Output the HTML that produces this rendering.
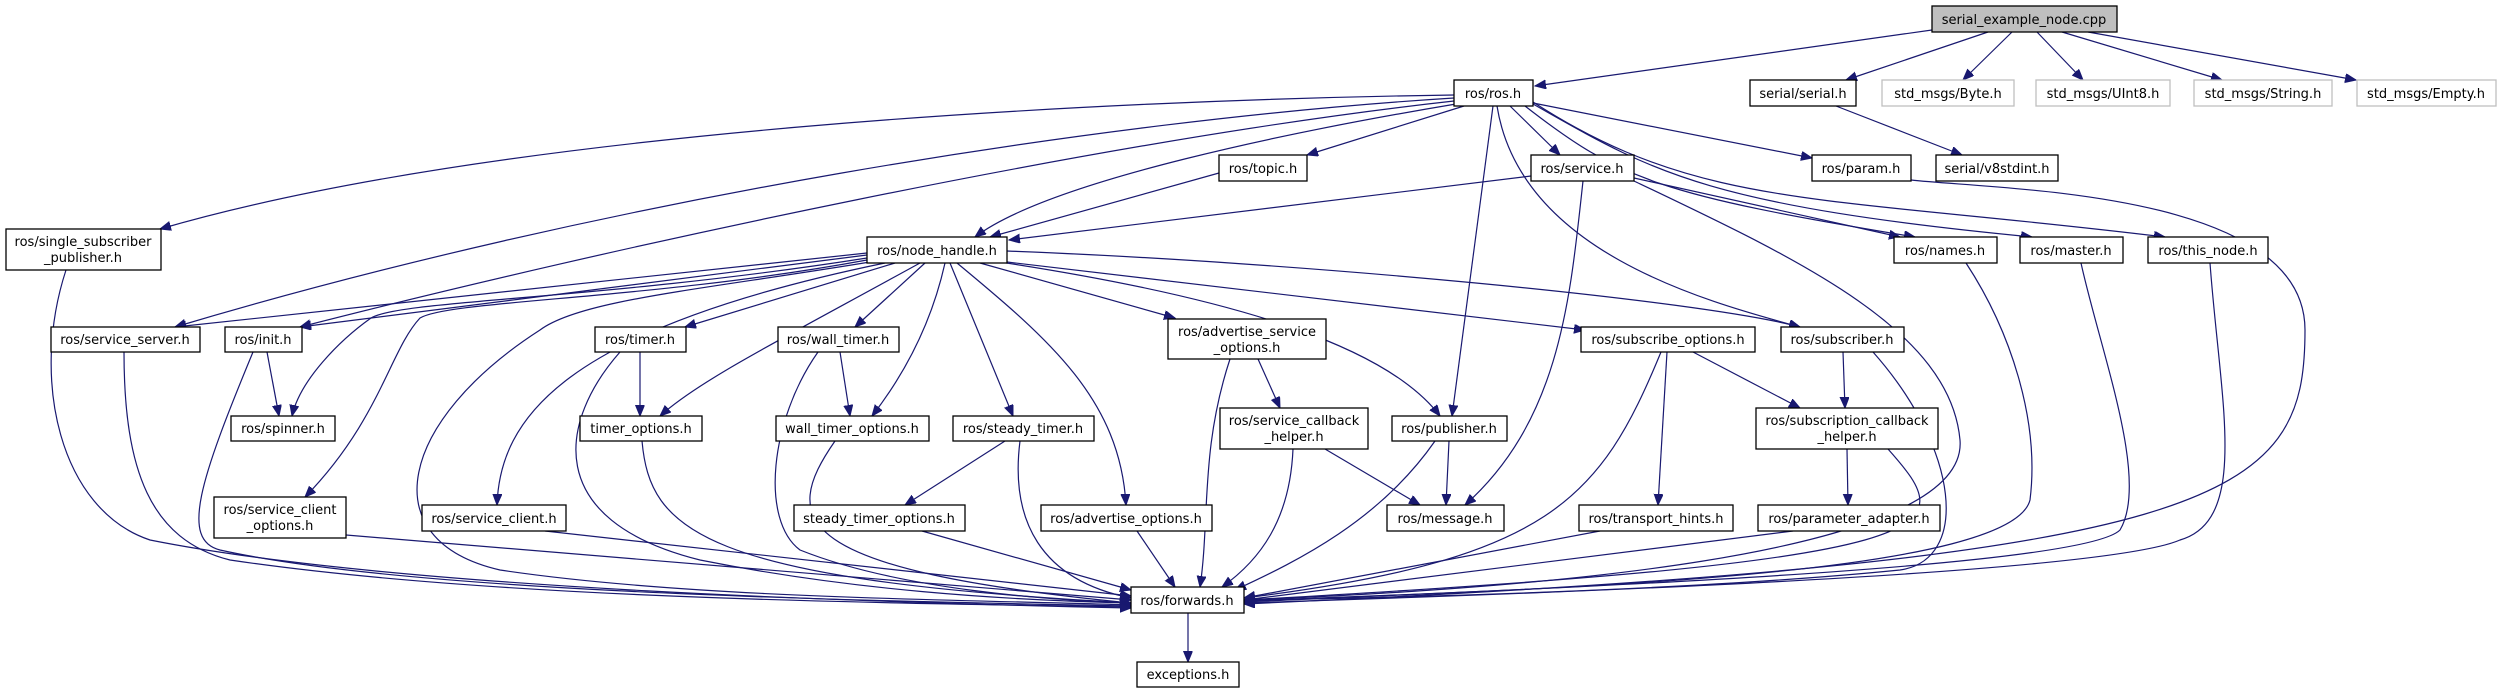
<!DOCTYPE html>
<html><head><meta charset="utf-8"><style>
html,body{margin:0;padding:0;background:#fff;}
svg{display:block;}
text{font-family:"DejaVu Sans","Liberation Sans",sans-serif;font-size:13px;fill:#000;text-anchor:middle;}
.n{fill:#fff;stroke:#000;stroke-width:1.3;}
.g{fill:#fff;stroke:#bfbfbf;stroke-width:1.3;}
.e{fill:none;stroke:#191970;stroke-width:1.2;marker-end:url(#a);}
</style></head><body>
<svg width="2502" height="693" viewBox="0 0 2502 693" xmlns="http://www.w3.org/2000/svg">
<defs><marker id="a" markerUnits="userSpaceOnUse" markerWidth="12" markerHeight="10" refX="11" refY="4.5" orient="auto"><path d="M0,0 L11,4.5 L0,9 z" fill="#191970" stroke="#191970"/></marker></defs>
<g>
<path class="e" d="M1932,30 L1535,86"/>
<path class="e" d="M1988,32 L1846,80"/>
<path class="e" d="M2012,32 L1963,80"/>
<path class="e" d="M2037,32 L2083,80"/>
<path class="e" d="M2062,32 L2222,80"/>
<path class="e" d="M2088,32 L2356,80"/>
<path class="e" d="M1836,106 L1962,155"/>
<path class="e" d="M1454,95 C1100,100 500,130 160,229"/>
<path class="e" d="M1454,98 C1100,120 600,200 175,327"/>
<path class="e" d="M1454,101 C1100,140 600,250 300,327"/>
<path class="e" d="M1456,104 C1300,130 1050,180 975,237"/>
<path class="e" d="M1219,173 L990,237"/>
<path class="e" d="M1531,176 L1009,240"/>
<path class="e" d="M1464,106 L1307,155"/>
<path class="e" d="M1510,106 L1560,155"/>
<path class="e" d="M1533,103 L1812,158"/>
<path class="e" d="M1525,106 C1620,180 1660,195 1915,237"/>
<path class="e" d="M1634,178 L1900,237"/>
<path class="e" d="M1533,104 C1650,170 1700,205 2032,237"/>
<path class="e" d="M1533,102 C1700,210 1820,195 2165,237"/>
<path class="e" d="M1493,106 L1452,416"/>
<path class="e" d="M1497,106 C1520,250 1700,300 1800,327"/>
<path class="e" d="M1583,181 C1570,300 1560,420 1465,505"/>
<path class="e" d="M1634,181 C1800,260 1950,330 1960,440 C1970,560 1500,590 1244,600"/>
<path class="e" d="M1911,180 C2000,190 2305,190 2305,330 C2305,500 2230,560 1244,604"/>
<path class="e" d="M1966,263 C2010,330 2040,420 2030,500 C2010,580 1500,590 1244,601"/>
<path class="e" d="M2081,263 C2100,350 2150,480 2120,530 C2080,570 1500,590 1244,602"/>
<path class="e" d="M2210,263 C2220,400 2250,520 2180,540 C2100,575 1500,595 1244,603"/>
<path class="e" d="M1873,352 C1960,450 1970,560 1900,570 C1700,590 1400,598 1244,600"/>
<path class="e" d="M1843,352 L1845,408"/>
<path class="e" d="M1693,352 L1800,408"/>
<path class="e" d="M1667,352 L1658,505"/>
<path class="e" d="M1661,352 C1600,500 1550,560 1244,598"/>
<path class="e" d="M1847,449 L1848,505"/>
<path class="e" d="M1888,449 C1960,530 1970,560 1244,600"/>
<path class="e" d="M1793,531 L1244,600"/>
<path class="e" d="M1600,531 L1244,598"/>
<path class="e" d="M1449,441 L1446,505"/>
<path class="e" d="M1435,441 C1380,520 1300,560 1235,590"/>
<path class="e" d="M1325,449 L1420,505"/>
<path class="e" d="M1293,449 C1290,520 1260,560 1222,587"/>
<path class="e" d="M1258,359 L1280,408"/>
<path class="e" d="M1230,359 C1200,450 1210,520 1200,587"/>
<path class="e" d="M980,263 L1175,318"/>
<path class="e" d="M1007,262 L1585,330"/>
<path class="e" d="M1007,251 C1300,262 1700,300 1800,327"/>
<path class="e" d="M1000,262 C1250,300 1390,350 1440,416"/>
<path class="e" d="M867,253 L175,327"/>
<path class="e" d="M867,255 L300,327"/>
<path class="e" d="M867,258 C600,300 400,300 371,318 C340,340 300,380 292,416"/>
<path class="e" d="M867,260 C650,300 450,300 420,318 C390,350 380,420 305,497"/>
<path class="e" d="M870,262 C700,290 580,300 540,330 C400,420 370,540 500,570 C700,600 1000,600 1131,605"/>
<path class="e" d="M885,263 C560,330 500,420 497,505"/>
<path class="e" d="M895,263 L685,327"/>
<path class="e" d="M920,263 C780,340 700,380 660,416"/>
<path class="e" d="M925,263 L855,327"/>
<path class="e" d="M945,263 C930,330 900,380 872,416"/>
<path class="e" d="M950,263 L1013,416"/>
<path class="e" d="M957,263 C1050,340 1120,400 1126,505"/>
<path class="e" d="M640,352 L640,416"/>
<path class="e" d="M620,352 C560,420 540,520 700,560 C850,590 1000,600 1131,603"/>
<path class="e" d="M642,441 C650,530 700,580 1131,603"/>
<path class="e" d="M840,352 L850,416"/>
<path class="e" d="M818,352 C770,420 760,520 800,550 C900,590 1050,600 1131,603"/>
<path class="e" d="M835,441 C780,520 790,570 1131,603"/>
<path class="e" d="M1005,441 L905,505"/>
<path class="e" d="M1020,441 C1010,520 1040,580 1131,598"/>
<path class="e" d="M922,531 L1131,590"/>
<path class="e" d="M1137,531 L1175,587"/>
<path class="e" d="M346,535 L1131,600"/>
<path class="e" d="M545,531 L1131,596"/>
<path class="e" d="M267,352 L279,416"/>
<path class="e" d="M253,352 C200,480 180,540 220,550 C400,590 800,600 1131,606"/>
<path class="e" d="M124,352 C124,470 150,540 230,560 C500,600 900,603 1131,607"/>
<path class="e" d="M66,270 C30,380 60,510 150,540 C400,590 900,603 1131,608"/>
<path class="e" d="M1188,613 L1188,662"/>
</g>
<g>
<rect x="1932" y="6" width="185" height="26" fill="#bfbfbf" stroke="#000" stroke-width="1.3"/><text x="2024" y="24">serial_example_node.cpp</text>
<rect class="n" x="1454" y="80" width="79" height="26"/><text x="1493" y="98">ros/ros.h</text>
<rect class="n" x="1750" y="80" width="106" height="26"/><text x="1803" y="98">serial/serial.h</text>
<rect class="g" x="1882" y="80" width="132" height="26"/><text x="1948" y="98">std_msgs/Byte.h</text>
<rect class="g" x="2036" y="80" width="134" height="26"/><text x="2103" y="98">std_msgs/UInt8.h</text>
<rect class="g" x="2194" y="80" width="138" height="26"/><text x="2263" y="98">std_msgs/String.h</text>
<rect class="g" x="2357" y="80" width="139" height="26"/><text x="2426" y="98">std_msgs/Empty.h</text>
<rect class="n" x="1219" y="155" width="88" height="26"/><text x="1263" y="173">ros/topic.h</text>
<rect class="n" x="1531" y="155" width="103" height="26"/><text x="1582" y="173">ros/service.h</text>
<rect class="n" x="1812" y="155" width="99" height="26"/><text x="1861" y="173">ros/param.h</text>
<rect class="n" x="1936" y="155" width="122" height="26"/><text x="1997" y="173">serial/v8stdint.h</text>
<rect class="n" x="6" y="229" width="155" height="41"/><text x="83" y="246">ros/single_subscriber</text><text x="83" y="262">_publisher.h</text>
<rect class="n" x="867" y="237" width="140" height="26"/><text x="937" y="255">ros/node_handle.h</text>
<rect class="n" x="1894" y="237" width="103" height="26"/><text x="1945" y="255">ros/names.h</text>
<rect class="n" x="2020" y="237" width="103" height="26"/><text x="2071" y="255">ros/master.h</text>
<rect class="n" x="2148" y="237" width="120" height="26"/><text x="2208" y="255">ros/this_node.h</text>
<rect class="n" x="51" y="327" width="149" height="25"/><text x="125" y="344">ros/service_server.h</text>
<rect class="n" x="225" y="327" width="77" height="25"/><text x="263" y="344">ros/init.h</text>
<rect class="n" x="595" y="327" width="91" height="25"/><text x="640" y="344">ros/timer.h</text>
<rect class="n" x="778" y="327" width="121" height="25"/><text x="838" y="344">ros/wall_timer.h</text>
<rect class="n" x="1168" y="319" width="158" height="40"/><text x="1247" y="336">ros/advertise_service</text><text x="1247" y="352">_options.h</text>
<rect class="n" x="1581" y="327" width="174" height="25"/><text x="1668" y="344">ros/subscribe_options.h</text>
<rect class="n" x="1781" y="327" width="123" height="25"/><text x="1842" y="344">ros/subscriber.h</text>
<rect class="n" x="231" y="416" width="104" height="25"/><text x="283" y="433">ros/spinner.h</text>
<rect class="n" x="580" y="416" width="122" height="25"/><text x="641" y="433">timer_options.h</text>
<rect class="n" x="776" y="416" width="153" height="25"/><text x="852" y="433">wall_timer_options.h</text>
<rect class="n" x="953" y="416" width="141" height="25"/><text x="1023" y="433">ros/steady_timer.h</text>
<rect class="n" x="1220" y="408" width="148" height="41"/><text x="1294" y="425">ros/service_callback</text><text x="1294" y="441">_helper.h</text>
<rect class="n" x="1392" y="416" width="115" height="25"/><text x="1449" y="433">ros/publisher.h</text>
<rect class="n" x="1756" y="408" width="182" height="41"/><text x="1847" y="425">ros/subscription_callback</text><text x="1847" y="441">_helper.h</text>
<rect class="n" x="214" y="497" width="132" height="41"/><text x="280" y="514">ros/service_client</text><text x="280" y="530">_options.h</text>
<rect class="n" x="422" y="505" width="144" height="26"/><text x="494" y="523">ros/service_client.h</text>
<rect class="n" x="794" y="505" width="171" height="26"/><text x="879" y="523">steady_timer_options.h</text>
<rect class="n" x="1041" y="505" width="171" height="26"/><text x="1126" y="523">ros/advertise_options.h</text>
<rect class="n" x="1387" y="505" width="117" height="26"/><text x="1445" y="523">ros/message.h</text>
<rect class="n" x="1579" y="505" width="154" height="26"/><text x="1656" y="523">ros/transport_hints.h</text>
<rect class="n" x="1758" y="505" width="182" height="26"/><text x="1849" y="523">ros/parameter_adapter.h</text>
<rect class="n" x="1131" y="587" width="113" height="26"/><text x="1187" y="605">ros/forwards.h</text>
<rect class="n" x="1137" y="662" width="102" height="25"/><text x="1188" y="679">exceptions.h</text>
</g>
</svg>
</body></html>
